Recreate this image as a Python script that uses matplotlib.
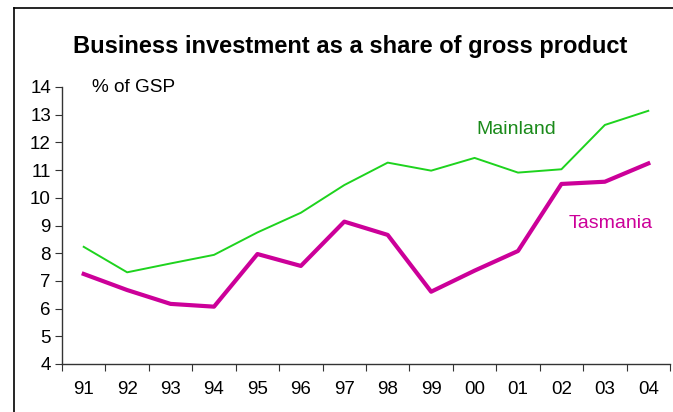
import matplotlib.pyplot as plt
import numpy as np

years = ["91", "92", "93", "94", "95", "96", "97", "98", "99", "00", "01", "02", "03", "04"]
mainland = [8.23, 7.31, 7.63, 7.94, 8.75, 9.46, 10.46, 11.27, 10.98, 11.44, 10.91, 11.03, 12.63, 13.14]
tasmania = [7.25, 6.67, 6.17, 6.07, 7.97, 7.54, 9.14, 8.66, 6.61, 7.37, 8.08, 10.50, 10.58, 11.24]

plt.rcParams["font.family"] = ["Liberation Sans", "DejaVu Sans"]

fig = plt.figure(figsize=(6.73, 4.12), dpi=100)
W, H = 673, 412

# outer frame: a background axes whose left and top spines form the border
bg = fig.add_axes([14 / W, -0.05, 1.2, 1.05 - 8 / H])
bg.set_xticks([])
bg.set_yticks([])
bg.spines["right"].set_visible(False)
bg.spines["bottom"].set_visible(False)
bg.spines["left"].set_linewidth(1.2)
bg.spines["top"].set_linewidth(1.2)
bg.patch.set_alpha(0)

ax = fig.add_axes([62 / W, (H - 364) / H, (670 - 62) / W, (364 - 87) / H])
ax.patch.set_alpha(0)
x = np.arange(len(years))
ax.plot(x, mainland, color="#1ed31e", lw=1.4)
ax.plot(x, tasmania, color="#cc0099", lw=3.0)

ax.set_xlim(-0.5, len(years) - 0.5)
ax.set_ylim(4, 14)
ax.set_yticks(range(4, 15))
# category ticks sit between the years, labels centred under each year
ax.set_xticks(np.arange(-0.5, len(years), 1.0))
ax.set_xticklabels([])
ax.set_xticks(x, minor=True)
ax.set_xticklabels(years, minor=True)
ax.tick_params(axis="x", which="minor", length=0, pad=12, labelsize=13.5)
ax.tick_params(axis="x", which="major", length=5, direction="out", color="#333333")
ax.tick_params(axis="y", length=5, direction="out", pad=3, labelsize=13.5, color="#333333")
for s in ["top", "right"]:
    ax.spines[s].set_visible(False)
for s in ["left", "bottom"]:
    ax.spines[s].set_color("#333333")
    ax.spines[s].set_linewidth(1.0)

fig.text(350 / W, 1 - 46 / H, "Business investment as a share of gross product",
         ha="center", va="center", fontsize=17, fontweight="bold")
fig.text(92 / W, 1 - 88 / H, "% of GSP", ha="left", va="center", fontsize=13.7)
fig.text(516 / W, 1 - 129 / H, "Mainland", ha="center", va="center",
         fontsize=14, color="#1a8a1a")
fig.text(611 / W, 1 - 224 / H, "Tasmania", ha="center", va="center",
         fontsize=14, color="#cc0099")

fig.savefig("out.png", dpi=100)
